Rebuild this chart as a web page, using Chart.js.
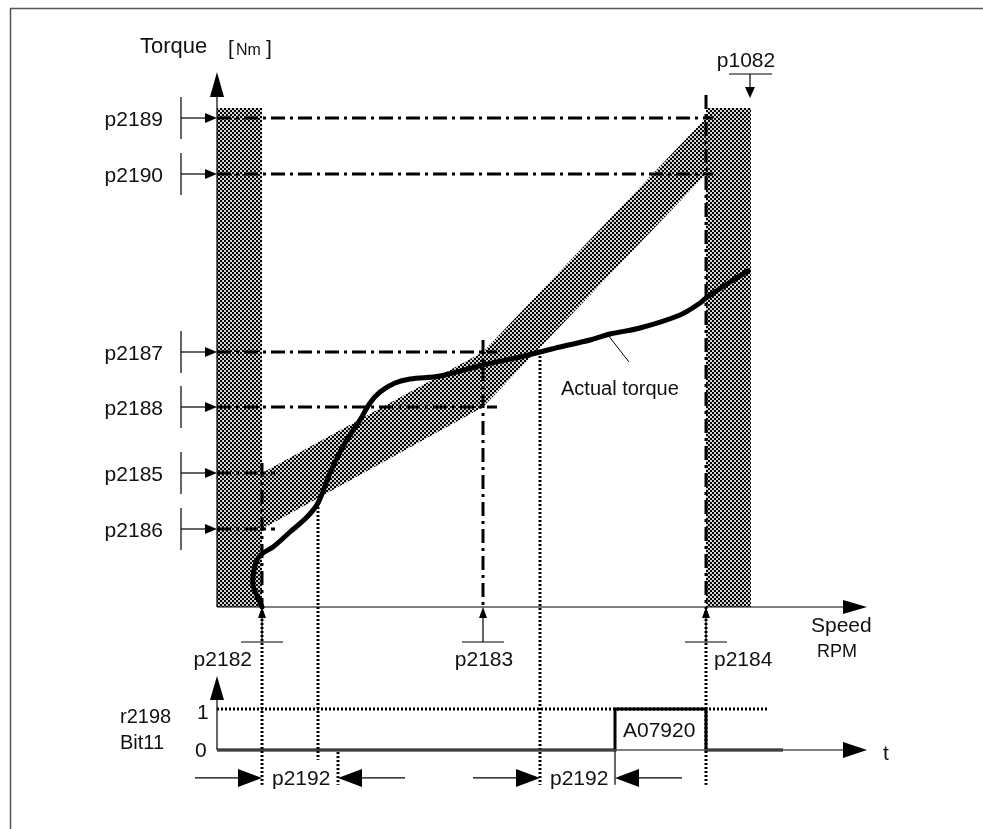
<!DOCTYPE html>
<html>
<head>
<meta charset="utf-8">
<script src="https://cdn.jsdelivr.net/npm/chart.js@4.4.0/dist/chart.umd.min.js"></script>
<style>
  html, body { margin: 0; padding: 0; background: #fff; }
  #wrap { width: 983px; height: 829px; position: relative; }
</style>
</head>
<body>
<div id="wrap"><canvas id="chart"></canvas></div>
<script>
// Speed in rpm, torque in Nm.
var speedLabels = ['p2182', 'p2183', 'p2184'];
var speedValues = [225, 1330, 2445];
var maxSpeed = 2670;            // p1082
var bandTop = 49.9;

var thresholdLabels = ['p2189', 'p2190', 'p2187', 'p2188', 'p2185', 'p2186'];
var thresholdValues = [48.9, 43.3, 25.5, 20.0, 13.4, 7.8];
var thresholdEnds = [2480, 2480, 1400, 1400, 290, 290];

// envelope corners: upper = p2185/p2187/p2189, lower = p2186/p2188/p2190
var upperTorque = [13.4, 25.5, 48.9];
var lowerTorque = [7.8, 20.0, 43.3];

// actual torque curve
var actualSpeed = [225, 200, 180, 185, 205, 230, 280, 365, 450, 505, 565, 640, 715, 765, 815, 890, 965, 1115, 1330, 1515, 1615, 1715, 1865, 1965, 2115, 2315, 2415, 2445, 2565, 2655];
var actualTorque = [0, 1.1, 2.2, 3.7, 4.9, 5.4, 6.0, 7.5, 9.0, 10.4, 13.4, 16.4, 18.7, 20.4, 21.5, 22.4, 22.8, 23.1, 24.2, 25.0, 25.5, 26.0, 26.7, 27.3, 27.9, 29.2, 30.4, 30.9, 32.5, 33.6];

// r2198 bit 11 (time axis shares the speed positions)
var bitTime = [0, 1990, 1990, 2445, 2445, 2830];
var bitState = [0, 0, 1, 1, 0, 0];
var levelOneEnd = 2750;
var delayStarts = [225, 1615];  // p2192 starts
var delayEnds = [605, 1990];    // p2192 ends

function pts(xs, ys) {
    return xs.map(function(x, i) { return { x: x, y: ys[i] }; });
}

function makeHatch(ctx) {
    var c = document.createElement('canvas');
    c.width = 4; c.height = 4;
    var g = c.getContext('2d');
    g.fillStyle = '#d4d4d4';
    g.fillRect(0, 0, 4, 4);
    g.fillStyle = '#000';
    g.fillRect(0, 0, 2, 2);
    g.fillRect(2, 2, 2, 2);
    return ctx.createPattern(c, 'repeat');
}

var canvas = document.getElementById('chart');
var hatch = makeHatch(canvas.getContext('2d'));
var DASHDOT = [14, 5, 3, 5];
var DOTS = [2, 2];

var datasets = [];
// shaded speed bands (below p2182 and above p2184)
datasets.push({ data: pts([0, speedValues[0]], [bandTop, bandTop]), fill: { value: 0 }, backgroundColor: hatch, borderWidth: 0, order: 5 });
datasets.push({ data: pts([speedValues[2], maxSpeed], [bandTop, bandTop]), fill: { value: 0 }, backgroundColor: hatch, borderWidth: 0, order: 5 });
// envelope
datasets.push({ data: pts(speedValues, upperTorque), fill: '+1', backgroundColor: hatch, borderWidth: 0, order: 5 });
datasets.push({ data: pts(speedValues, lowerTorque), fill: false, borderWidth: 0, order: 5 });
// threshold lines
thresholdValues.forEach(function(v, i) {
    datasets.push({ data: pts([0, thresholdEnds[i]], [v, v]), borderColor: '#000', borderWidth: 3, borderDash: DASHDOT, fill: false, order: 2 });
});
// actual torque
datasets.push({ data: pts(actualSpeed, actualTorque), borderColor: '#000', borderWidth: 5, tension: 0.35, fill: false, borderCapStyle: 'round', borderJoinStyle: 'round', order: 1 });
// bit diagram
datasets.push({ data: pts([0, levelOneEnd], [1, 1]), yAxisID: 'yBit', borderColor: '#000', borderWidth: 3, borderDash: DOTS, fill: false, order: 2 });
datasets.push({ data: pts(bitTime, bitState), yAxisID: 'yBit', borderColor: '#000', borderWidth: 3, fill: false, order: 1 });

var diagramPlugin = {
    id: 'diagram',
    beforeDraw: function(chart) {
        var ctx = chart.ctx;
        ctx.save();
        ctx.fillStyle = '#fff';
        ctx.fillRect(0, 0, chart.width, chart.height);
        ctx.restore();
    },
    afterDatasetsDraw: function(chart) {
        var ctx = chart.ctx;
        var sx = chart.scales.x, sy = chart.scales.y, sb = chart.scales.yBit;
        function X(v) { return sx.getPixelForValue(v); }
        function Y(v) { return sy.getPixelForValue(v); }
        function B(v) { return sb.getPixelForValue(v); }

        function line(x1, y1, x2, y2, w, dash, color) {
            ctx.save();
            ctx.strokeStyle = color || '#000';
            ctx.lineWidth = w;
            ctx.setLineDash(dash || []);
            ctx.beginPath();
            ctx.moveTo(x1, y1);
            ctx.lineTo(x2, y2);
            ctx.stroke();
            ctx.restore();
        }
        function head(tx, ty, dir, len, half) {
            ctx.save();
            ctx.fillStyle = '#000';
            ctx.beginPath();
            ctx.moveTo(tx, ty);
            if (dir === 'up') { ctx.lineTo(tx - half, ty + len); ctx.lineTo(tx + half, ty + len); }
            if (dir === 'down') { ctx.lineTo(tx - half, ty - len); ctx.lineTo(tx + half, ty - len); }
            if (dir === 'right') { ctx.lineTo(tx - len, ty - half); ctx.lineTo(tx - len, ty + half); }
            if (dir === 'left') { ctx.lineTo(tx + len, ty - half); ctx.lineTo(tx + len, ty + half); }
            ctx.closePath();
            ctx.fill();
            ctx.restore();
        }
        function text(s, x, y, size, align) {
            ctx.save();
            ctx.fillStyle = '#111';
            ctx.font = size + 'px "Liberation Sans", Arial, sans-serif';
            ctx.textAlign = align || 'left';
            ctx.textBaseline = 'alphabetic';
            ctx.fillText(s, x, y);
            ctx.restore();
        }

        // frame
        ctx.save();
        ctx.strokeStyle = '#555';
        ctx.lineWidth = 1.5;
        ctx.beginPath();
        ctx.moveTo(10.5, chart.height);
        ctx.lineTo(10.5, 8.5);
        ctx.lineTo(chart.width, 8.5);
        ctx.stroke();
        ctx.restore();

        var x0 = X(0), y0 = Y(0), b0 = B(0);

        // torque / speed axes
        line(x0, y0, x0, 90, 1.2);
        head(x0, 72, 'up', 25, 7);
        line(x0, y0, 850, y0, 1.2);
        head(867, y0, 'right', 24, 7);
        text('Torque', 140, 53, 22);
        text('[', 228, 55, 21);
        text('Nm', 236, 55, 16);
        text(']', 266, 55, 21);
        text('Speed', 811, 632, 21);
        text('RPM', 817, 657, 18);

        // threshold labels with arrows
        thresholdValues.forEach(function(v, i) {
            var yy = Y(v);
            var tx = x0 - 36;
            line(tx, yy - 21, tx, yy + 21, 1.2);
            line(tx, yy, x0 - 8, yy, 1.2);
            head(x0, yy, 'right', 12, 5);
            text(thresholdLabels[i], 163, yy + 8, 21, 'right');
        });

        // speed marks below the axis
        speedValues.forEach(function(v, i) {
            var xx = X(v);
            var ty = y0 + 35;
            line(xx - 21, ty, xx + 21, ty, 1.2);
            line(xx, ty, xx, y0 + 8, 1.2);
            head(xx, y0, 'up', 11, 4);
            var align = i === 0 ? 'right' : (i === 1 ? 'center' : 'left');
            var lx = i === 0 ? xx - 10 : (i === 1 ? xx + 1 : xx + 8);
            text(speedLabels[i], lx, 666, 21, align);
        });

        // p1082 marker
        var xm = X(maxSpeed);
        line(xm - 22, 74, xm + 21, 74, 1.2);
        line(xm - 1, 74, xm - 1, 90, 1.2);
        head(xm - 1, 98, 'down', 11, 5);
        text('p1082', xm - 5, 67, 21, 'center');

        // vertical guide lines
        line(X(225), Y(14.4), X(225), y0, 3, DASHDOT);
        line(X(225), y0, X(225), B(-0.85), 3, DOTS);
        line(X(505), Y(10.4), X(505), B(-0.24), 3, DOTS);
        line(X(605), B(-0.05), X(605), B(-0.85), 3, DOTS);
        line(X(1330), Y(26.7), X(1330), y0, 3, DASHDOT);
        line(X(1615), Y(25.5), X(1615), B(-0.85), 3, DOTS);
        line(X(1990), B(1), X(1990), B(-0.85), 1.2);
        line(X(2445), Y(51.2), X(2445), y0, 3, DASHDOT);
        line(X(2445), y0, X(2445), B(-0.85), 3, DOTS);

        // actual torque label
        line(608, 335, 629, 362, 1);
        text('Actual torque', 561, 395, 20);

        // bit diagram axes
        line(x0, b0, x0, 690, 1.2);
        head(x0, 676, 'up', 24, 7);
        line(x0, b0, 850, b0, 1.6, null, '#555');
        head(867, b0, 'right', 24, 8);
        text('t', 883, 760, 21);
        text('1', 197, 719, 21);
        text('0', 195, 757, 21);
        text('r2198', 120, 723, 20);
        text('Bit11', 120, 749, 20);
        text('A07920', 623, 737, 21);

        // p2192 delay arrows
        var ya = B(-0.68);
        delayStarts.forEach(function(s, i) {
            var xs = X(s), xe = X(delayEnds[i]);
            line(xs - 67, ya, xs - 20, ya, 1.2);
            head(xs, ya, 'right', 24, 9);
            text('p2192', xs + 10, 785, 21);
            line(xe + 20, ya, xe + 67, ya, 1.2);
            head(xe, ya, 'left', 24, 9);
        });
    }
};

new Chart(canvas, {
    type: 'line',
    data: { datasets: datasets },
    options: {
        responsive: true,
        maintainAspectRatio: false,
        animation: false,
        events: [],
        layout: { padding: 0 },
        elements: { point: { radius: 0 } },
        plugins: { legend: { display: false }, tooltip: { enabled: false } },
        scales: {
            x: { type: 'linear', min: -1085, max: 3830, display: false },
            y: { type: 'linear', min: -22.2, max: 60.7, display: false },
            yBit: { type: 'linear', min: -1.9268, max: 18.2927, display: false, position: 'left' }
        }
    },
    plugins: [diagramPlugin]
});
</script>
</body>
</html>
